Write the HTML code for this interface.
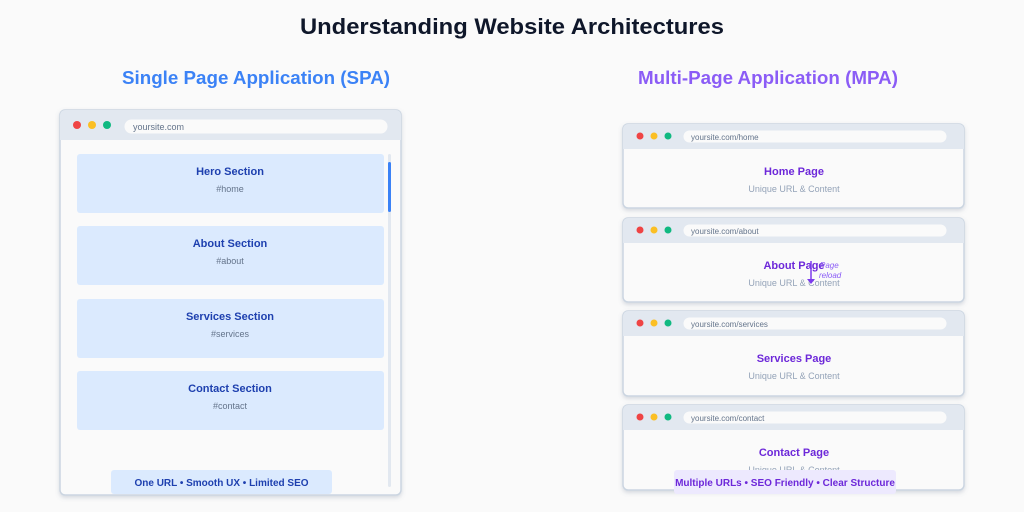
<!DOCTYPE html>
<html><head><meta charset="utf-8"><style>html,body{margin:0;padding:0;background:#fafafa}svg{display:block}text{font-family:"Liberation Sans",sans-serif}</style></head><body>
<svg width="1024" height="512" viewBox="0 0 1024 512" xmlns="http://www.w3.org/2000/svg">
<defs><filter id="sh" x="-5%" y="-5%" width="110%" height="115%"><feDropShadow dx="0" dy="2" stdDeviation="2" flood-color="#64748b" flood-opacity="0.25"/></filter></defs>
<rect width="1024" height="512" fill="#fafafa"/>
<text x="512" y="34" text-anchor="middle" font-size="22" font-weight="bold" fill="#0f172a" textLength="424" lengthAdjust="spacingAndGlyphs">Understanding Website Architectures</text>
<text x="256" y="84" text-anchor="middle" font-size="18" font-weight="bold" fill="#3b82f6" textLength="268" lengthAdjust="spacingAndGlyphs">Single Page Application (SPA)</text>
<text x="768" y="84" text-anchor="middle" font-size="18" font-weight="bold" fill="#8b5cf6" textLength="260" lengthAdjust="spacingAndGlyphs">Multi-Page Application (MPA)</text>

<!-- SPA -->
<g>
<rect x="60" y="110" width="341" height="385" rx="5" fill="#fafafa" stroke="#cbd5e1" stroke-width="1.5" filter="url(#sh)"/>
<path d="M60,140 V115 a5,5 0 0 1 5,-5 H396 a5,5 0 0 1 5,5 V140 Z" fill="#e2e8f0"/>
<circle cx="77" cy="125" r="4" fill="#ef4444"/><circle cx="92" cy="125" r="4" fill="#fbbf24"/><circle cx="107" cy="125" r="4" fill="#10b981"/>
<rect x="124" y="119" width="264" height="15" rx="7.5" fill="#fafafa" stroke="#e2e8f0"/>
<text x="133" y="130" font-size="9" fill="#64748b">yoursite.com</text>
<rect x="77" y="154" width="307" height="59" rx="3" fill="#dbeafe"/>
<text x="230" y="175" text-anchor="middle" font-size="11" font-weight="bold" fill="#1e40af">Hero Section</text>
<text x="230" y="192" text-anchor="middle" font-size="9" fill="#64748b">#home</text>
<rect x="77" y="226" width="307" height="59" rx="3" fill="#dbeafe"/>
<text x="230" y="247" text-anchor="middle" font-size="11" font-weight="bold" fill="#1e40af">About Section</text>
<text x="230" y="264" text-anchor="middle" font-size="9" fill="#64748b">#about</text>
<rect x="77" y="299" width="307" height="59" rx="3" fill="#dbeafe"/>
<text x="230" y="320" text-anchor="middle" font-size="11" font-weight="bold" fill="#1e40af">Services Section</text>
<text x="230" y="337" text-anchor="middle" font-size="9" fill="#64748b">#services</text>
<rect x="77" y="371" width="307" height="59" rx="3" fill="#dbeafe"/>
<text x="230" y="392" text-anchor="middle" font-size="11" font-weight="bold" fill="#1e40af">Contact Section</text>
<text x="230" y="409" text-anchor="middle" font-size="9" fill="#64748b">#contact</text>
<rect x="388" y="154" width="3" height="333" rx="1.5" fill="#e2e8f0"/>
<rect x="388" y="162" width="3" height="50" rx="1.5" fill="#3b82f6"/>
<rect x="111" y="470" width="221" height="24" rx="3" fill="#dbeafe"/>
<text x="221.5" y="486" text-anchor="middle" font-size="10" font-weight="bold" fill="#1e40af">One URL • Smooth UX • Limited SEO</text>
</g>

<!-- MPA -->
<g id="b1">
<rect x="623" y="124" width="341" height="84" rx="5" fill="#fafafa" stroke="#cbd5e1" stroke-width="1.5" filter="url(#sh)"/>
<path d="M623,149 V129 a5,5 0 0 1 5,-5 H959 a5,5 0 0 1 5,5 V149 Z" fill="#e2e8f0"/>
<circle cx="640" cy="136" r="3.5" fill="#ef4444"/><circle cx="654" cy="136" r="3.5" fill="#fbbf24"/><circle cx="668" cy="136" r="3.5" fill="#10b981"/>
<rect x="683" y="130" width="264" height="13" rx="6.5" fill="#fafafa" stroke="#e2e8f0"/>
<text x="691" y="140" font-size="8" fill="#64748b">yoursite.com/home</text>
<text x="794" y="175" text-anchor="middle" font-size="11" font-weight="bold" fill="#6d28d9">Home Page</text>
<text x="794" y="192" text-anchor="middle" font-size="9" fill="#94a3b8">Unique URL &amp; Content</text>
</g>
<g transform="translate(0,94)">
<rect x="623" y="124" width="341" height="84" rx="5" fill="#fafafa" stroke="#cbd5e1" stroke-width="1.5" filter="url(#sh)"/>
<path d="M623,149 V129 a5,5 0 0 1 5,-5 H959 a5,5 0 0 1 5,5 V149 Z" fill="#e2e8f0"/>
<circle cx="640" cy="136" r="3.5" fill="#ef4444"/><circle cx="654" cy="136" r="3.5" fill="#fbbf24"/><circle cx="668" cy="136" r="3.5" fill="#10b981"/>
<rect x="683" y="130" width="264" height="13" rx="6.5" fill="#fafafa" stroke="#e2e8f0"/>
<text x="691" y="140" font-size="8" fill="#64748b">yoursite.com/about</text>
<text x="794" y="175" text-anchor="middle" font-size="11" font-weight="bold" fill="#6d28d9">About Page</text>
<text x="794" y="192" text-anchor="middle" font-size="9" fill="#94a3b8">Unique URL &amp; Content</text>
<line x1="811" y1="167" x2="811" y2="188" stroke="#7c3aed" stroke-width="1.5"/>
<path d="M807,185 L811,190 L815,185 Z" fill="#7c3aed"/>
<text x="820" y="174" font-size="8" font-style="italic" fill="#8b5cf6">Page</text>
<text x="819" y="184" font-size="8" font-style="italic" fill="#8b5cf6">reload</text>
</g>
<g transform="translate(0,187)">
<rect x="623" y="124" width="341" height="85" rx="5" fill="#fafafa" stroke="#cbd5e1" stroke-width="1.5" filter="url(#sh)"/>
<path d="M623,149 V129 a5,5 0 0 1 5,-5 H959 a5,5 0 0 1 5,5 V149 Z" fill="#e2e8f0"/>
<circle cx="640" cy="136" r="3.5" fill="#ef4444"/><circle cx="654" cy="136" r="3.5" fill="#fbbf24"/><circle cx="668" cy="136" r="3.5" fill="#10b981"/>
<rect x="683" y="130" width="264" height="13" rx="6.5" fill="#fafafa" stroke="#e2e8f0"/>
<text x="691" y="140" font-size="8" fill="#64748b">yoursite.com/services</text>
<text x="794" y="175" text-anchor="middle" font-size="11" font-weight="bold" fill="#6d28d9">Services Page</text>
<text x="794" y="192" text-anchor="middle" font-size="9" fill="#94a3b8">Unique URL &amp; Content</text>
</g>
<g transform="translate(0,281)">
<rect x="623" y="124" width="341" height="85" rx="5" fill="#fafafa" stroke="#cbd5e1" stroke-width="1.5" filter="url(#sh)"/>
<path d="M623,149 V129 a5,5 0 0 1 5,-5 H959 a5,5 0 0 1 5,5 V149 Z" fill="#e2e8f0"/>
<circle cx="640" cy="136" r="3.5" fill="#ef4444"/><circle cx="654" cy="136" r="3.5" fill="#fbbf24"/><circle cx="668" cy="136" r="3.5" fill="#10b981"/>
<rect x="683" y="130" width="264" height="13" rx="6.5" fill="#fafafa" stroke="#e2e8f0"/>
<text x="691" y="140" font-size="8" fill="#64748b">yoursite.com/contact</text>
<text x="794" y="175" text-anchor="middle" font-size="11" font-weight="bold" fill="#6d28d9">Contact Page</text>
<text x="794" y="192" text-anchor="middle" font-size="9" fill="#94a3b8">Unique URL &amp; Content</text>
</g>
<rect x="674" y="470" width="222" height="24" rx="3" fill="#ede9fe"/>
<text x="785" y="486" text-anchor="middle" font-size="10" font-weight="bold" fill="#6d28d9">Multiple URLs • SEO Friendly • Clear Structure</text>
</svg>
</body></html>
